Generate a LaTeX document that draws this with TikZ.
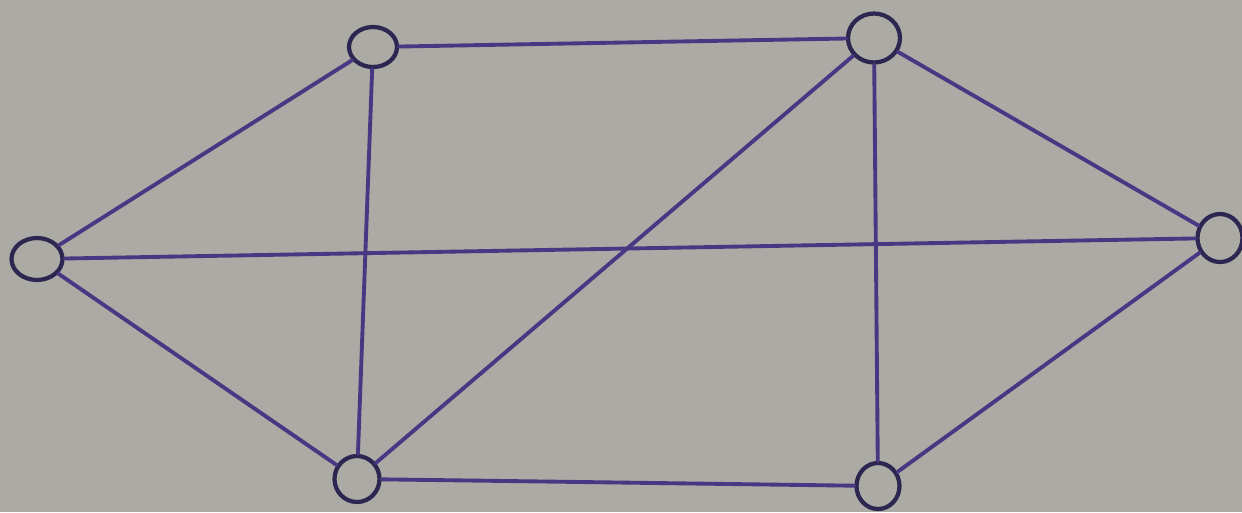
\documentclass[tikz,border=0pt]{standalone}
\usetikzlibrary{shapes.geometric}
\definecolor{board}{RGB}{171,170,164}
\definecolor{ink}{RGB}{72,56,132}
\definecolor{inkdark}{RGB}{45,38,80}
\tikzset{
  vtx/.style={draw=inkdark, line width=2.4pt, ellipse, inner sep=0pt},
  edge/.style={draw=ink, line width=2.2pt, line cap=round}
}
\begin{document}
\begin{tikzpicture}[x=0.02cm,y=-0.02cm]
\fill[board] (0,0) rectangle (1242,512);
\useasboundingbox (0,0) rectangle (1242,512);
\node[vtx, minimum width=1.02cm, minimum height=0.84cm] (L) at (37,259) {};
\node[vtx, minimum width=0.96cm, minimum height=0.80cm] (TL) at (373,47) {};
\node[vtx, minimum width=1.04cm, minimum height=0.98cm] (TR) at (874,38) {};
\node[vtx, minimum width=0.90cm, minimum height=0.96cm] (R) at (1220,238) {};
\node[vtx, minimum width=0.90cm, minimum height=0.92cm] (BL) at (357,479) {};
\node[vtx, minimum width=0.86cm, minimum height=0.92cm] (BR) at (878,486) {};
\draw[edge] (L) -- (TL);
\draw[edge] (L) -- (R);
\draw[edge] (L) -- (BL);
\draw[edge] (TL) -- (TR);
\draw[edge] (TL) -- (BL);
\draw[edge] (TR) -- (R);
\draw[edge] (TR) -- (BL);
\draw[edge] (TR) -- (BR);
\draw[edge] (R) -- (BR);
\draw[edge] (BL) -- (BR);
\end{tikzpicture}
\end{document}
